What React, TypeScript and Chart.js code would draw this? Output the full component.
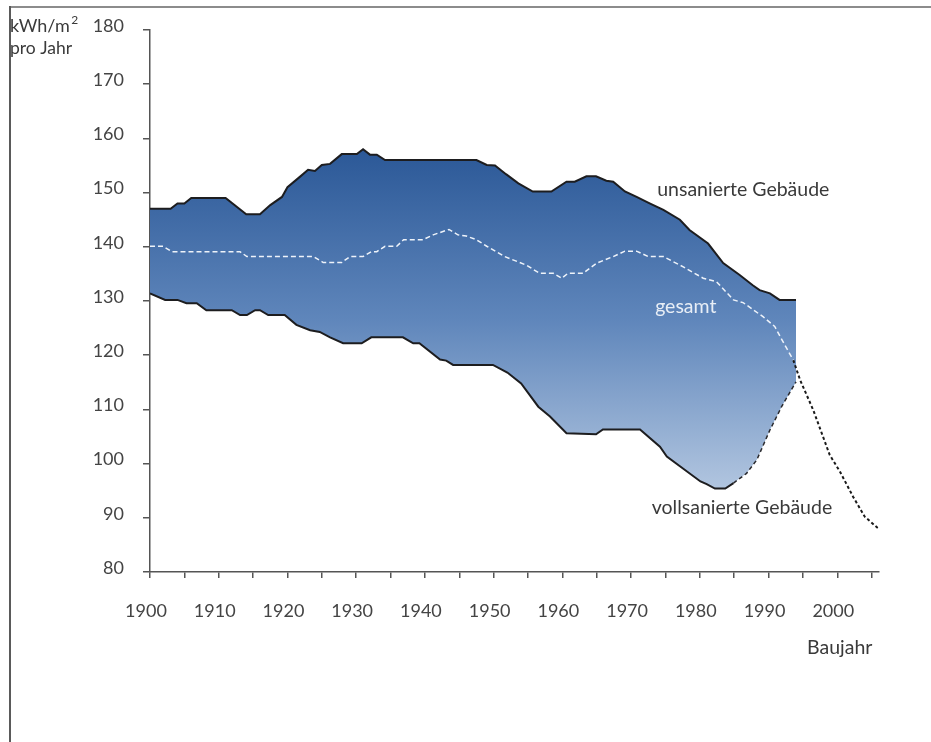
import React, { useEffect, useRef } from "react";
import { Chart, registerables } from "chart.js";

Chart.register(...registerables);

// ---- Axis ticks ----
const xTickValues = [1900, 1905, 1910, 1915, 1920, 1925, 1930, 1935, 1940, 1945, 1950, 1955, 1960, 1965, 1970, 1975, 1980, 1985, 1990, 1995, 2000, 2005];
const yTickValues = [80, 90, 100, 110, 120, 130, 140, 150, 160, 170, 180];

// ---- unsanierte Gebäude (upper bound) ----
const upperYears = [1900, 1903, 1904, 1905, 1906, 1911, 1914, 1916, 1917.5, 1919.2, 1920, 1921.8, 1923, 1924, 1925, 1926.2, 1927.9, 1930.1, 1931, 1932, 1933, 1934.2, 1947.5, 1949, 1950.2, 1951.8, 1953.6, 1955.7, 1958.4, 1960.6, 1961.8, 1963.5, 1964.9, 1966.4, 1967.4, 1969.1, 1970.8, 1972.7, 1974.7, 1977.1, 1978.5, 1981.2, 1983.4, 1985.8, 1987.7, 1988.7, 1990.2, 1991.6, 1994];
const upperValues = [147, 147, 148, 148, 149, 149, 146, 146, 147.7, 149.2, 151, 152.9, 154.2, 154, 155.1, 155.3, 157.1, 157.1, 158, 157, 157, 156, 156, 155.1, 155, 153.4, 151.7, 150.2, 150.2, 152, 152, 153, 153, 152.2, 152, 150.2, 149.2, 148, 146.8, 145, 143.1, 140.6, 137, 134.8, 132.9, 132, 131.4, 130.2, 130.2];

// ---- vollsanierte Gebäude (lower bound) ----
const lowerYears = [1900, 1902.2, 1904, 1905.3, 1906.8, 1908.2, 1911.9, 1913.1, 1914.1, 1915.3, 1916, 1917.2, 1919.6, 1921.3, 1923.3, 1924.7, 1926.2, 1928.1, 1930.8, 1932.2, 1936.8, 1938.3, 1939.2, 1942.2, 1943.1, 1944.1, 1949.9, 1952, 1954, 1956.5, 1958.2, 1960.6, 1964.9, 1965.9, 1971.3, 1974.2, 1975.2, 1980.1, 1981, 1982.2, 1983.7, 1984.9, 1986.8, 1988.3, 1990.2, 1991.9, 1994];
const lowerValues = [131.4, 130.2, 130.2, 129.6, 129.6, 128.3, 128.3, 127.4, 127.4, 128.3, 128.3, 127.4, 127.4, 125.6, 124.6, 124.3, 123.3, 122.2, 122.2, 123.3, 123.3, 122.2, 122.2, 119.2, 119, 118.2, 118.2, 116.8, 114.8, 110.5, 108.7, 105.6, 105.4, 106.3, 106.3, 103.1, 101.3, 96.7, 96.2, 95.4, 95.4, 96.4, 98.2, 100.7, 106.2, 110.5, 115.1];
const lowerDashFrom = 1984.9; // lower bound drawn dashed from this year on

// ---- gesamt ----
const totalYears = [1900, 1901.9, 1903.2, 1913.1, 1914.1, 1923.8, 1925.2, 1927.9, 1929.1, 1931, 1932.2, 1933, 1934.2, 1935.9, 1936.9, 1939.7, 1941.2, 1943.5, 1944.8, 1946, 1947.5, 1949, 1951.6, 1954.8, 1956.7, 1958.7, 1959.9, 1960.8, 1963, 1965, 1967.4, 1969.1, 1970.8, 1972.5, 1974.7, 1977.6, 1980.5, 1982.4, 1984.9, 1986.3, 1989.2, 1990.9, 1992.1, 1993.6];
const totalValues = [140.1, 140.1, 139.1, 139.1, 138.2, 138.2, 137.1, 137.1, 138.2, 138.2, 139.1, 139.1, 140.1, 140.1, 141.3, 141.3, 142.2, 143.2, 142.2, 142, 141.3, 140.1, 138.2, 136.6, 135.1, 135.1, 134.2, 135.1, 135.1, 137, 138.2, 139.2, 139.2, 138.2, 138.2, 136.3, 134.2, 133.6, 130.2, 129.7, 127.1, 125.3, 122.5, 119.1];

// ---- Fortsetzung (black dotted) ----
const projYears = [1993.6, 1994.6, 1996.5, 1998.9, 2000.4, 2002.3, 2004, 2005.9];
const projValues = [119.1, 115.4, 109.9, 101.6, 98.5, 93.9, 90.2, 88.1];

// ---- annotations ----
const noteTexts = ["unsanierte Gebäude", "gesamt", "vollsanierte Gebäude", "Baujahr"];
const noteYears = [1973.8, 1973.5, 1973.0, 1995.6];
const noteValues = [150.5, 128.9, 91.8, 66];
const noteColors = ["#3a3a3a", "#e8eef6", "#3a3a3a", "#3a3a3a"];

const FONT = "Lato, 'Open Sans', sans-serif";

export default function App() {
  const ref = useRef<HTMLCanvasElement | null>(null);

  useEffect(() => {
    const canvas = ref.current;
    if (!canvas) return;
    const toPts = (xs: number[], ys: number[]) => xs.map((x, i) => ({ x, y: ys[i] }));
    const lowerAll = toPts(lowerYears, lowerValues);
    const lowerSolid = lowerAll.filter((p) => p.x <= lowerDashFrom);
    const lowerDashed = lowerAll.filter((p) => p.x >= lowerDashFrom);

    const notes = {
      id: "notes",
      afterDraw(chart: any) {
        const { ctx, scales } = chart;
        const x = scales.x;
        const y = scales.y;
        ctx.save();
        ctx.textBaseline = "middle";
        ctx.textAlign = "left";
        ctx.font = `19.5px ${FONT}`;
        noteTexts.forEach((t, i) => {
          ctx.fillStyle = noteColors[i];
          ctx.fillText(t, x.getPixelForValue(noteYears[i]), y.getPixelForValue(noteValues[i]));
        });
        // unit label top-left
        ctx.fillStyle = "#3a3a3a";
        ctx.font = `18px ${FONT}`;
        const base = "kWh/m";
        ctx.fillText(base, 10, 26);
        const w = ctx.measureText(base).width;
        ctx.font = `12px ${FONT}`;
        ctx.fillText("2", 10 + w + 1.5, 20);
        ctx.font = `17.5px ${FONT}`;
        ctx.fillText("pro Jahr", 10, 48);
        ctx.restore();
      },
    };

    const lineBase = { pointRadius: 0, tension: 0, fill: false };

    const chart = new Chart(canvas, {
      type: "line",
      data: {
        datasets: [
          {
            ...lineBase,
            label: "unsanierte Gebäude",
            data: toPts(upperYears, upperValues),
            borderColor: "#1d1d1f",
            borderWidth: 2,
            fill: "+1",
            backgroundColor: (c: any) => {
              const ch = c.chart;
              if (!ch.chartArea) return "#5a80b5";
              const ys = ch.scales.y;
              const g = ch.ctx.createLinearGradient(0, ys.getPixelForValue(158), 0, ys.getPixelForValue(95));
              g.addColorStop(0, "#2b5897");
              g.addColorStop(0.5, "#5f86bb");
              g.addColorStop(1, "#b2c6e0");
              return g;
            },
          },
          {
            ...lineBase,
            label: "vollsanierte Gebäude (Fläche)",
            data: lowerAll,
            borderColor: "rgba(0,0,0,0)",
            borderWidth: 0,
          },
          {
            ...lineBase,
            label: "vollsanierte Gebäude",
            data: lowerSolid,
            borderColor: "#1d1d1f",
            borderWidth: 2,
          },
          {
            ...lineBase,
            label: "vollsanierte Gebäude (gestrichelt)",
            data: lowerDashed,
            borderColor: "#2a2a2e",
            borderWidth: 1.5,
            borderDash: [4, 3],
          },
          {
            ...lineBase,
            label: "gesamt",
            data: toPts(totalYears, totalValues),
            borderColor: "#eef3fa",
            borderWidth: 1.5,
            borderDash: [5, 3],
          },
          {
            ...lineBase,
            label: "Prognose",
            data: toPts(projYears, projValues),
            borderColor: "#1a1a1a",
            borderWidth: 2,
            borderDash: [3, 2.5],
          },
        ],
      },
      options: {
        responsive: false,
        animation: false,
        devicePixelRatio: 1,
        layout: { padding: { left: 0, top: 30, right: 52.5, bottom: 0 } },
        plugins: {
          legend: { display: false },
          tooltip: { enabled: false },
          filler: { drawTime: "beforeDatasetsDraw" },
        },
        scales: {
          x: {
            type: "linear",
            min: 1900,
            max: 2006,
            afterFit: (s: any) => {
              s.height = 170;
            },
            afterBuildTicks: (s: any) => {
              s.ticks = xTickValues.map((v) => ({ value: v }));
            },
            ticks: {
              autoSkip: false,
              maxRotation: 0,
              padding: 22,
              labelOffset: -4,
              color: "#444",
              font: { family: FONT, size: 18 },
              callback: (v: any) => (Number(v) % 10 === 0 ? String(v) : ""),
            },
            grid: { drawOnChartArea: false, drawTicks: true, tickLength: 6, color: "#555", lineWidth: 1.5 },
            border: { display: true, color: "#555", width: 1.5 },
          },
          y: {
            type: "linear",
            min: 80,
            max: 180,
            afterFit: (s: any) => {
              s.width = 150;
            },
            afterBuildTicks: (s: any) => {
              s.ticks = yTickValues.map((v) => ({ value: v }));
            },
            ticks: {
              padding: 19,
              labelOffset: -4,
              color: "#444",
              font: { family: FONT, size: 18 },
            },
            grid: { drawOnChartArea: false, drawTicks: true, tickLength: 7, color: "#555", lineWidth: 1.5 },
            border: { display: true, color: "#555", width: 1.5 },
          },
        },
      },
      plugins: [notes],
    } as any);

    return () => chart.destroy();
  }, []);

  return (
    <div style={{ position: "absolute", left: 0, top: 0, width: 931, height: 742, overflow: "hidden", background: "#fff" }}>
      <canvas ref={ref} width={931} height={742} style={{ position: "absolute", left: 0, top: 0, width: 931, height: 742 }} />
      <div style={{ position: "absolute", left: 9, top: 6, width: 922, height: 2, background: "#8c8c8c" }} />
      <div style={{ position: "absolute", left: 9, top: 6, width: 2, height: 736, background: "#5a5a5a" }} />
    </div>
  );
}
